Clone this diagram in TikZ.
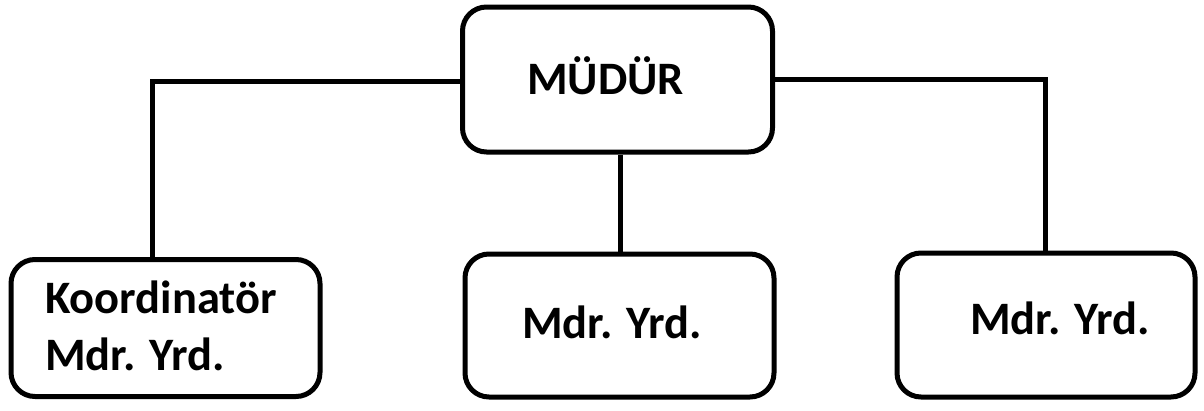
\documentclass[tikz,border=0pt]{standalone}
\usepackage{fontspec}
\setmainfont{Carlito}
\begin{document}
\begin{tikzpicture}[x=1pt,y=-1pt,
  box/.style={draw=black,line width=5pt,rounded corners=24pt,minimum width=#1,inner sep=0pt,fill=white},
  conn/.style={draw=black,line width=5pt},
  lbl/.style={anchor=base west,inner sep=0pt,font=\fontsize{46.5}{57}\selectfont\bfseries,text=black,align=left}]
\useasboundingbox (0,0) rectangle (1204,410);
\fill[white] (0,0) rectangle (1204,410);
% boxes
\node[box=310pt,minimum height=145pt] (top) at (617.5,79.5) {};
\node[box=309pt,minimum height=137pt] (left) at (165.5,328) {};
\node[box=309pt,minimum height=143pt] (mid) at (619.5,325.5) {};
\node[box=298pt,minimum height=144pt] (right) at (1046,325) {};
% connector coordinates
\coordinate (lc) at (152,81);
\coordinate (rc) at (1045,79);
\draw[conn] (top.west |- lc) -- (lc) -- (lc |- left.north);
\draw[conn] (top.east |- rc) -- (rc) -- (rc |- right.north);
\draw[conn] (top.south -| 620,0) -- (mid.north -| 620,0);
% labels
\node[lbl] (tl) at (527,94) {MÜDÜR};
\node[lbl] (ll1) at (45,313) {Koordinatör};
\node[lbl] (ll2) at (45,370) {Mdr. Yrd.};
\node[lbl] (ml) at (522,338) {Mdr. Yrd.};
\node[lbl] (rl) at (970,334) {Mdr. Yrd.};
\end{tikzpicture}
\end{document}
